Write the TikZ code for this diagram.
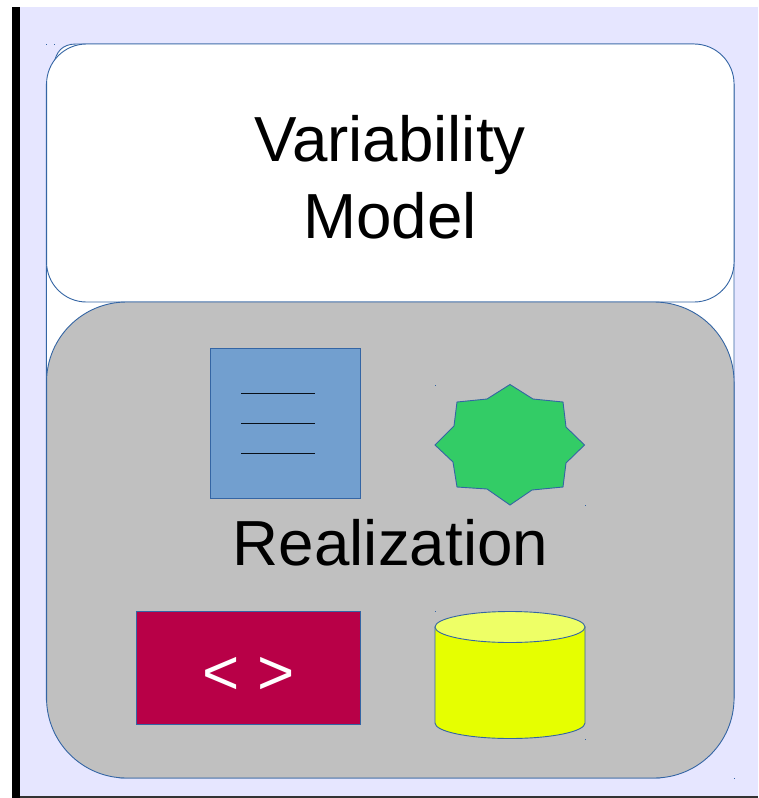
\documentclass[tikz,border=0pt]{standalone}
\usepackage{fontspec}
\setmainfont{Liberation Sans}
\usetikzlibrary{positioning}
\definecolor{lav}{HTML}{E6E6FF}
\definecolor{edge}{HTML}{3465A4}
\definecolor{docblue}{HTML}{729FCF}
\definecolor{stargreen}{HTML}{33CC66}
\definecolor{codered}{HTML}{B80047}
\definecolor{dbyellow}{HTML}{E6FF00}
\definecolor{dbtop}{HTML}{EEFF66}
\definecolor{realgrey}{HTML}{C0C0C0}
\tikzset{
	panel/.style={draw=edge,line width=0.9pt,minimum width=687.5pt,inner sep=0pt,outer sep=0pt},
	item/.style={draw=edge,line width=0.9pt,inner sep=0pt,outer sep=0pt},
	title/.style={font=\fontsize{63.7}{77}\selectfont,align=center,text=black,inner sep=0pt}
}
\begin{document}
\begin{tikzpicture}
		[x=1pt,y=-1pt]
		\useasboundingbox (0,0) rectangle (758,798);
		\fill[lav] (20,7) rectangle (758,796);
		\fill[black] (12,7) rectangle (20,798);
		\fill[black!80] (20,796) rectangle (758,797.5);
		
		% back plate
		\filldraw[white,draw=edge,line width=0.9pt] (54,64) .. controls (56,52) and (62,44) .. (76,44) -- (694,44) -- (734,84) -- (734,700) -- (660,778) -- (120,778) -- (46.3,700) -- (46.3,84) -- cycle;
		
		\node[panel,fill=white,rounded corners=40pt,minimum height=258pt] (model) at (390.3,173) {};
		\node[panel,fill=realgrey,rounded corners=80pt,minimum height=476pt] (real) at (390.3,540) {};
		\node[title] (modeltext) at (390,177) {Variability\\Model};
		\node[title] (realtext) at (390.5,543) {Realization};
		
		\node[item,fill=docblue,minimum width=150pt,minimum height=150pt] (doc) at (285.7,423) {};
		\foreach \y in {393,423,453}
		\draw[line width=0.7pt,black!85!edge] (241,\y) -- (315,\y);
		
		\filldraw[stargreen,draw=edge,line width=0.9pt] (510,384.5) -- (533,399) -- (563,402) -- (566,427) -- (584.5,445) -- (566,463) -- (563,487) -- (532,490) -- (510,505) -- (487,489) -- (457,487) -- (453,462) -- (435,445) -- (454,426) -- (457,402) -- (487,399) -- cycle;
		
		\node[item,fill=codered,minimum width=224.5pt,minimum height=113pt] (code) at (248.3,668) {};
		\node[title,text=white] (codetext) at (248.5,675.5) {< >};
		
		\filldraw[dbyellow,draw=edge,line width=0.9pt] (435,627) -- (435,723) arc[start angle=180,end angle=360,x radius=75,y radius=-15.5] -- (585,627) -- cycle;
		\filldraw[dbtop,draw=edge,line width=0.9pt] (510,627) ellipse[x radius=75,y radius=15.5];
		
		\foreach \x/\y in {46/44,54/44,435/385,585/505,435/611,585/739,734/778}
		\fill[edge] (\x-0.5,\y-0.5) rectangle (\x+0.5,\y+0.5);
		\end{tikzpicture}
\end{document}
